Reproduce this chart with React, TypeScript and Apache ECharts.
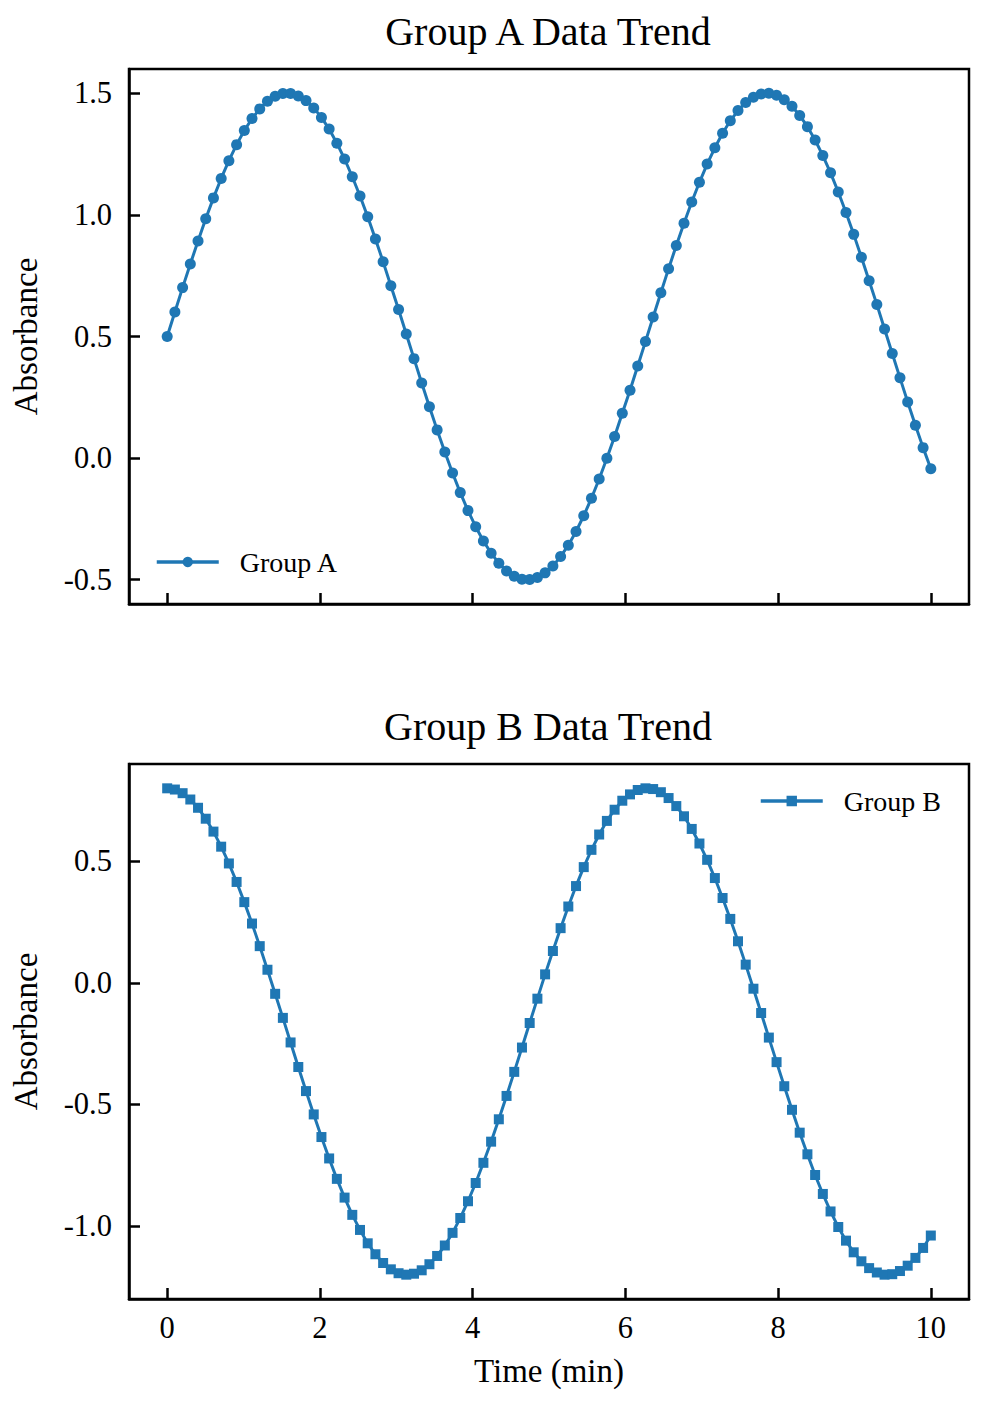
import React, { useEffect, useRef } from "react";
import * as echarts from "echarts";

const timeMin = [
  0, 0.101, 0.202, 0.303, 0.404, 0.505, 0.606, 0.707, 0.808, 0.909,
  1.01, 1.111, 1.212, 1.313, 1.414, 1.515, 1.616, 1.717, 1.818, 1.919,
  2.02, 2.121, 2.222, 2.323, 2.424, 2.525, 2.626, 2.727, 2.828, 2.929,
  3.03, 3.131, 3.232, 3.333, 3.434, 3.535, 3.636, 3.737, 3.838, 3.939,
  4.04, 4.141, 4.242, 4.343, 4.444, 4.545, 4.646, 4.747, 4.848, 4.949,
  5.051, 5.152, 5.253, 5.354, 5.455, 5.556, 5.657, 5.758, 5.859, 5.96,
  6.061, 6.162, 6.263, 6.364, 6.465, 6.566, 6.667, 6.768, 6.869, 6.97,
  7.071, 7.172, 7.273, 7.374, 7.475, 7.576, 7.677, 7.778, 7.879, 7.98,
  8.081, 8.182, 8.283, 8.384, 8.485, 8.586, 8.687, 8.788, 8.889, 8.99,
  9.091, 9.192, 9.293, 9.394, 9.495, 9.596, 9.697, 9.798, 9.899, 10.0,
];

const groupA = [
  0.5, 0.601, 0.701, 0.798, 0.893, 0.984, 1.07, 1.15, 1.223, 1.289,
  1.347, 1.396, 1.436, 1.467, 1.488, 1.499, 1.499, 1.489, 1.47, 1.44,
  1.401, 1.353, 1.295, 1.23, 1.157, 1.078, 0.992, 0.901, 0.807, 0.709,
  0.611, 0.51, 0.409, 0.309, 0.211, 0.116, 0.025, -0.061, -0.142, -0.216,
  -0.282, -0.341, -0.391, -0.432, -0.464, -0.486, -0.498, -0.499, -0.491, -0.472,
  -0.444, -0.405, -0.358, -0.302, -0.237, -0.165, -0.086, -0.001, 0.089, 0.184,
  0.279, 0.379, 0.479, 0.58, 0.68, 0.779, 0.874, 0.966, 1.053, 1.134,
  1.209, 1.276, 1.336, 1.387, 1.429, 1.462, 1.484, 1.497, 1.5, 1.492,
  1.474, 1.447, 1.409, 1.363, 1.308, 1.244, 1.173, 1.094, 1.01, 0.92,
  0.826, 0.729, 0.632, 0.531, 0.43, 0.33, 0.231, 0.135, 0.043, -0.044,
];

const groupB = [
  0.8, 0.795, 0.78, 0.754, 0.72, 0.675, 0.622, 0.56, 0.491, 0.415,
  0.332, 0.244, 0.151, 0.054, -0.045, -0.144, -0.245, -0.346, -0.445, -0.541,
  -0.634, -0.722, -0.806, -0.883, -0.954, -1.016, -1.071, -1.116, -1.152, -1.178,
  -1.194, -1.2, -1.196, -1.182, -1.157, -1.123, -1.08, -1.028, -0.967, -0.898,
  -0.823, -0.74, -0.653, -0.561, -0.465, -0.366, -0.266, -0.165, -0.065, 0.035,
  0.131, 0.225, 0.314, 0.398, 0.476, 0.547, 0.61, 0.666, 0.712, 0.749,
  0.775, 0.793, 0.8, 0.797, 0.784, 0.76, 0.727, 0.685, 0.633, 0.573,
  0.506, 0.431, 0.349, 0.263, 0.171, 0.075, -0.024, -0.124, -0.225, -0.326,
  -0.425, -0.522, -0.616, -0.705, -0.79, -0.868, -0.94, -1.004, -1.06, -1.108,
  -1.145, -1.173, -1.191, -1.2, -1.198, -1.185, -1.163, -1.131, -1.09, -1.039,
];

const xTicks = [0, 2, 4, 6, 8, 10];
const yTicksA = [-0.5, 0, 0.5, 1.0, 1.5];
const yTicksB = [-1.0, -0.5, 0, 0.5];

const FONT = "'Liberation Serif', 'Times New Roman', serif";
const BLUE = "#1f77b4";

export default function App() {
  const ref = useRef<HTMLDivElement>(null);

  useEffect(() => {
    if (!ref.current) return;
    const chart = echarts.init(ref.current, undefined, { renderer: "svg" });

    const axisLineStyle = { color: "#000", width: 2.5 };
    const tick = (vals: number[]) => ({
      show: true,
      inside: true,
      length: 11,
      customValues: vals,
      lineStyle: { color: "#000", width: 2.5 },
    });
    const fmt1 = (v: number) => v.toFixed(1);

    const xAxisBase = (gridIndex: number, showLabel: boolean) => ({
      type: "value",
      gridIndex,
      min: -0.5,
      max: 10.5,
      axisLine: { show: true, onZero: false, lineStyle: axisLineStyle },
      axisTick: tick(xTicks),
      splitLine: { show: false },
      axisLabel: {
        show: showLabel,
        customValues: xTicks,
        margin: 13,
        fontSize: 30.5,
        fontFamily: FONT,
        color: "#000",
      },
    });

    const yAxisBase = (gridIndex: number, min: number, max: number, ticks: number[]) => ({
      type: "value",
      gridIndex,
      min,
      max,
      name: "Absorbance",
      nameLocation: "middle",
      nameGap: 87,
      nameTextStyle: { fontSize: 33, fontFamily: FONT, color: "#000" },
      axisLine: { show: true, onZero: false, lineStyle: axisLineStyle },
      axisTick: tick(ticks),
      splitLine: { show: false },
      axisLabel: {
        customValues: ticks,
        formatter: fmt1,
        margin: 17,
        fontSize: 30.5,
        fontFamily: FONT,
        color: "#000",
      },
    });

    const legendBase = (name: string, left: number, top: number) => ({
      data: [name],
      left,
      top,
      padding: 0,
      itemWidth: 62,
      itemHeight: 13,
      lineStyle: { width: 3.5 },
      textStyle: { fontSize: 28, fontFamily: FONT, color: "#000", padding: [0, 0, 0, 16] },
    });

    const titleStyle = { fontSize: 40, fontWeight: "normal", fontFamily: FONT, color: "#000" };

    const option: any = {
      animation: false,
      backgroundColor: "#fff",
      title: [
        { text: "Group A Data Trend", left: 543, top: 6, textAlign: "center", textStyle: titleStyle },
        { text: "Group B Data Trend", left: 543, top: 701, textAlign: "center", textStyle: titleStyle },
      ],
      legend: [legendBase("Group A", 155, 548), legendBase("Group B", 759, 787)],
      grid: [
        { left: 129, top: 69, width: 840, height: 535, show: true, borderColor: "#000", borderWidth: 2.5, backgroundColor: "transparent" },
        { left: 129, top: 764, width: 840, height: 535, show: true, borderColor: "#000", borderWidth: 2.5, backgroundColor: "transparent" },
      ],
      xAxis: [
        xAxisBase(0, false),
        {
          ...xAxisBase(1, true),
          name: "Time (min)",
          nameLocation: "middle",
          nameGap: 55,
          nameTextStyle: { fontSize: 33, fontFamily: FONT, color: "#000" },
        },
      ],
      yAxis: [yAxisBase(0, -0.6, 1.6, yTicksA), yAxisBase(1, -1.3, 0.9, yTicksB)],
      series: [
        {
          name: "Group A",
          type: "line",
          xAxisIndex: 0,
          yAxisIndex: 0,
          data: timeMin.map((t, i) => [t, groupA[i]]),
          symbol: "circle",
          symbolSize: 11,
          showAllSymbol: true,
          color: BLUE,
          lineStyle: { color: BLUE, width: 3 },
          itemStyle: { color: BLUE },
        },
        {
          name: "Group B",
          type: "line",
          xAxisIndex: 1,
          yAxisIndex: 1,
          data: timeMin.map((t, i) => [t, groupB[i]]),
          symbol: "rect",
          symbolSize: 10,
          showAllSymbol: true,
          color: BLUE,
          lineStyle: { color: BLUE, width: 3 },
          itemStyle: { color: BLUE },
        },
      ],
    };

    chart.setOption(option);
    return () => chart.dispose();
  }, []);

  return (
    <div
      ref={ref}
      style={{ position: "fixed", left: 0, top: 0, width: 984, height: 1405, background: "#fff" }}
    />
  );
}
